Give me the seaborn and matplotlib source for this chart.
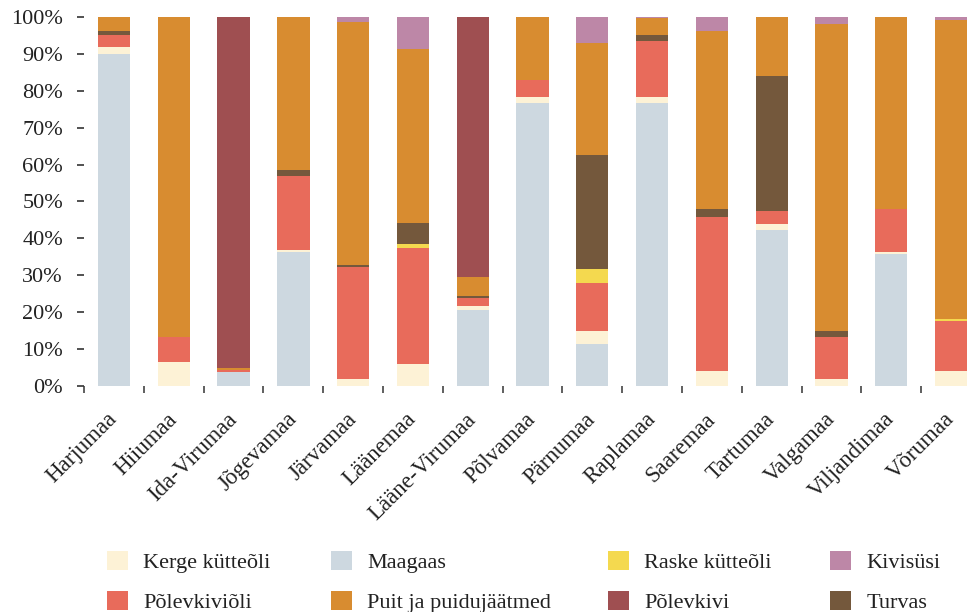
import numpy as np
import pandas as pd
import matplotlib
matplotlib.use("Agg")
import matplotlib.pyplot as plt
from matplotlib.patches import Patch
import seaborn as sns

counties = ["Harjumaa", "Hiiumaa", "Ida-Virumaa", "Jõgevamaa", "Järvamaa", "Läänemaa",
            "Lääne-Virumaa", "Põlvamaa", "Pärnumaa", "Raplamaa", "Saaremaa", "Tartumaa",
            "Valgamaa", "Viljandimaa", "Võrumaa"]

# shares (%) per fuel, stacking order bottom -> top
maagaas       = [90.0, 0.0, 3.6, 36.2, 0.0, 0.0, 20.5, 76.7, 11.3, 76.7, 0.0, 42.3, 0.0, 35.7, 0.0]
kerge         = [1.9, 6.5, 0.0, 0.6, 1.8, 5.9, 1.1, 1.7, 3.5, 1.7, 4.0, 1.6, 1.8, 0.6, 4.0]
polevkivioli  = [3.3, 6.7, 0.65, 20.1, 30.5, 31.5, 2.2, 4.6, 13.1, 15.2, 41.8, 3.5, 11.4, 11.7, 13.6]
raske         = [0.0, 0.0, 0.0, 0.0, 0.0, 1.1, 0.0, 0.0, 3.8, 0.0, 0.0, 0.0, 0.0, 0.0, 0.5]
turvas        = [1.1, 0.0, 0.0, 1.7, 0.5, 5.7, 0.5, 0.0, 30.9, 1.6, 2.2, 36.7, 1.6, 0.0, 0.0]
puit          = [3.7, 86.8, 0.55, 41.4, 66.0, 47.2, 5.2, 17.0, 30.4, 4.5, 48.3, 15.9, 83.5, 52.0, 81.2]
polevkivi     = [0.0, 0.0, 95.2, 0.0, 0.0, 0.0, 70.5, 0.0, 0.0, 0.0, 0.0, 0.0, 0.0, 0.0, 0.0]
kivisysi      = [0.0, 0.0, 0.0, 0.0, 1.2, 8.6, 0.0, 0.0, 7.0, 0.3, 3.7, 0.0, 1.7, 0.0, 0.7]

series_names = ["Maagaas", "Kerge kütteõli", "Põlevkiviõli", "Raske kütteõli", "Turvas",
                "Puit ja puidujäätmed", "Põlevkivi", "Kivisüsi"]
series_values = [maagaas, kerge, polevkivioli, raske, turvas, puit, polevkivi, kivisysi]
colors = {
    "Kerge kütteõli": "#fdf2d6",
    "Maagaas": "#cdd8e0",
    "Raske kütteõli": "#f4d94f",
    "Kivisüsi": "#bd87a7",
    "Põlevkiviõli": "#e86b5b",
    "Puit ja puidujäätmed": "#d88c30",
    "Põlevkivi": "#9f4f51",
    "Turvas": "#74583c",
}
legend_cols = [["Kerge kütteõli", "Põlevkiviõli"],
               ["Maagaas", "Puit ja puidujäätmed"],
               ["Raske kütteõli", "Põlevkivi"],
               ["Kivisüsi", "Turvas"]]
ytick_vals = list(range(0, 101, 10))
ytick_labels = [f"{v}%" for v in ytick_vals]

sns.set_style("white")
plt.rcParams["font.family"] = ["Liberation Serif", "DejaVu Serif"]

W, H = 976, 612
fig = plt.figure(figsize=(W / 100, H / 100), dpi=100)
px = 59.79
left = 114 - 0.5 * px
ax = fig.add_axes([left / W, (H - 385.7) / H, 15 * px / W, 368.4 / H])

df = pd.DataFrame(np.array(series_values).T, columns=series_names)
df["county"] = counties
cum = df[series_names].cumsum(axis=1)

for name in reversed(series_names):
    sns.barplot(x=df["county"], y=cum[name], color=colors[name], saturation=1,
                width=0.54, linewidth=0, ax=ax, order=counties)

ax.set_xlim(-0.5, 14.5)
ax.set_ylim(0, 100)
for s in ax.spines.values():
    s.set_visible(False)
ax.set_xlabel("")
ax.set_ylabel("")

ax.set_yticks(ytick_vals)
ax.set_yticklabels(ytick_labels)
ax.tick_params(axis="y", length=5.2, width=1.2, color="#333333", pad=10, labelsize=16,
               labelcolor="#222222", left=True)

ax.set_xticks(range(len(counties)))
ax.set_xticklabels(counties, rotation=45, ha="right", va="center", rotation_mode="anchor")
ax.tick_params(axis="x", which="major", length=0, pad=22, labelsize=16.5, labelcolor="#222222")
ax.set_xticks(np.arange(len(counties)) - 0.5, minor=True)
ax.tick_params(axis="x", which="minor", length=5.2, width=1.2, color="#444444", bottom=True)

col_x = [107, 331, 608, 830]
for cx, names in zip(col_x, legend_cols):
    handles = [Patch(facecolor=colors[n], edgecolor="none", label=n) for n in names]
    fig.legend(handles=handles, loc="upper left", bbox_to_anchor=(cx / W, 1 - 551 / H),
               frameon=False, borderpad=0, borderaxespad=0, handlelength=0.95,
               handleheight=0.95, handletextpad=0.68, labelspacing=0.8,
               fontsize=16, labelcolor="#222222")

fig.savefig("out.png", dpi=100)
